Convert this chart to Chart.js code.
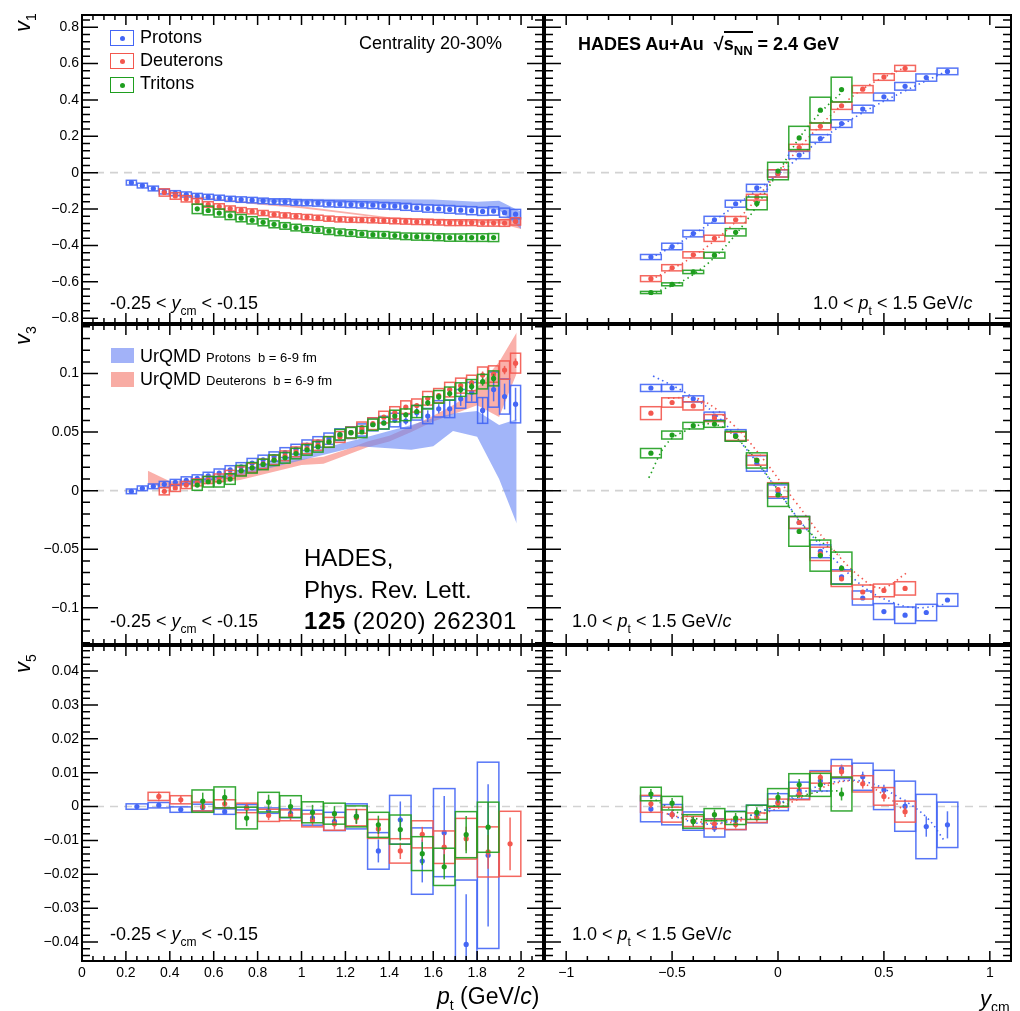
<!DOCTYPE html>
<html>
<head>
<meta charset="utf-8">
<script src="https://cdn.jsdelivr.net/npm/chart.js@4.4.1/dist/chart.umd.min.js"></script>
<style>
  body { margin: 0; background: #fff; width: 1020px; height: 1011px; position: relative; overflow: hidden;
         font-family: "Liberation Sans", Arial, Helvetica, sans-serif; color: #000; }
  canvas { position: absolute; }
  .t { position: absolute; white-space: nowrap; font-size: 18px; line-height: 18px; }
  .sb { font-size: 12px; position: relative; top: 6px; }
  .ax { position: absolute; white-space: nowrap; font-size: 22px; line-height: 22px; }
  .rot { transform: rotate(-90deg); transform-origin: 0 0; }
  .leg { position: absolute; width: 22px; height: 14px; border: 1.5px solid; }
  .leg i { position: absolute; left: 8.5px; top: 4.5px; width: 5px; height: 5px; border-radius: 50%; }
  .band { position: absolute; width: 23px; height: 15px; }
</style>
</head>
<body>
<canvas id="v1pt" style="left:0;top:11px" width="547" height="316"></canvas>
<canvas id="v1y" style="left:541px;top:11px" width="479" height="316"></canvas>
<canvas id="v3pt" style="left:0;top:321px" width="547" height="327"></canvas>
<canvas id="v3y" style="left:541px;top:321px" width="479" height="327"></canvas>
<canvas id="v5pt" style="left:0;top:642px" width="547" height="369"></canvas>
<canvas id="v5y" style="left:541px;top:642px" width="479" height="369"></canvas>

<!-- legend, top left pad -->
<div class="leg" style="left:110px;top:30px;border-color:#4466f5"><i style="background:#4466f5"></i></div>
<div class="leg" style="left:110px;top:53px;border-color:#f3574e"><i style="background:#f3574e"></i></div>
<div class="leg" style="left:110px;top:77px;border-color:#1f9e1f"><i style="background:#1f9e1f"></i></div>
<div class="t" style="left:140px;top:28px">Protons</div>
<div class="t" style="left:140px;top:51px">Deuterons</div>
<div class="t" style="left:140px;top:74px">Tritons</div>
<div class="t" style="left:359px;top:34px">Centrality 20-30%</div>
<div class="t" style="left:578px;top:35px;font-weight:bold">HADES Au+Au &nbsp;√<span style="border-top:2px solid #000;padding-top:1px">s<span class="sb" style="font-size:13px;top:5px">NN</span></span> = 2.4 GeV</div>

<!-- rapidity / pt windows -->
<div class="t" style="left:110px;top:294px">-0.25 &lt; <i>y</i><span class="sb">cm</span> &lt; -0.15</div>
<div class="t" style="left:110px;top:612px">-0.25 &lt; <i>y</i><span class="sb">cm</span> &lt; -0.15</div>
<div class="t" style="left:110px;top:925px">-0.25 &lt; <i>y</i><span class="sb">cm</span> &lt; -0.15</div>
<div class="t" style="left:813px;top:294px">1.0 &lt; <i>p</i><span class="sb">t</span> &lt; 1.5 GeV/<i>c</i></div>
<div class="t" style="left:572px;top:612px">1.0 &lt; <i>p</i><span class="sb">t</span> &lt; 1.5 GeV/<i>c</i></div>
<div class="t" style="left:572px;top:925px">1.0 &lt; <i>p</i><span class="sb">t</span> &lt; 1.5 GeV/<i>c</i></div>

<!-- model legend, middle left pad -->
<div class="band" style="left:111px;top:348px;background:#a2b2f8"></div>
<div class="band" style="left:111px;top:372px;background:#f8aca4"></div>
<div class="t" style="left:140px;top:347px">UrQMD <span style="font-size:13px">Protons &nbsp;b = 6-9 fm</span></div>
<div class="t" style="left:140px;top:370px">UrQMD <span style="font-size:13px">Deuterons &nbsp;b = 6-9 fm</span></div>

<div class="t" style="left:304px;top:546px;font-size:24px;line-height:24px">HADES,</div>
<div class="t" style="left:304px;top:578px;font-size:24px;line-height:24px">Phys. Rev. Lett.</div>
<div class="t" style="left:304px;top:609px;font-size:24px;line-height:24px;letter-spacing:0.6px"><b>125</b> (2020) 262301</div>

<!-- axis titles -->
<div class="ax rot" style="left:12px;top:32px"><i>v</i><span class="sb" style="font-size:14px">1</span></div>
<div class="ax rot" style="left:12px;top:345px"><i>v</i><span class="sb" style="font-size:14px">3</span></div>
<div class="ax rot" style="left:12px;top:673px"><i>v</i><span class="sb" style="font-size:14px">5</span></div>
<div class="ax" style="left:437px;top:985px;font-size:23px"><i>p</i><span class="sb" style="font-size:14px">t</span> (GeV/<i>c</i>)</div>
<div class="ax" style="left:980px;top:988px"><i>y</i><span class="sb" style="font-size:14px">cm</span></div>

<script>
// bin centres
const ptFine = [0.225,0.275,0.325,0.375,0.425,0.475,0.525,0.575,0.625,0.675,0.725,0.775,0.825,0.875,0.925,0.975,
  1.025,1.075,1.125,1.175,1.225,1.275,1.325,1.375,1.425,1.475,1.525,1.575,1.625,1.675,1.725,1.775,1.825,1.875,1.925,1.975];
const ptCoarse = [0.25,0.35,0.45,0.55,0.65,0.75,0.85,0.95,1.05,1.15,1.25,1.35,1.45,1.55,1.65,1.75,1.85,1.95];
const ycmBins = [-0.6,-0.5,-0.4,-0.3,-0.2,-0.1,0,0.1,0.2,0.3,0.4,0.5,0.6,0.7,0.8];

// v1 vs pt
const v1P = [-0.055,-0.071,-0.087,-0.104,-0.113,-0.120,-0.128,-0.133,-0.138,-0.144,-0.148,-0.151,-0.155,-0.159,-0.160,-0.164,-0.166,-0.168,
  -0.171,-0.173,-0.175,-0.177,-0.179,-0.182,-0.184,-0.188,-0.193,-0.197,-0.199,-0.202,-0.206,-0.209,-0.213,-0.211,-0.220,-0.228];
const sysV1P = [0.013,0.013,0.013,0.013,0.014,0.014,0.014,0.014,0.014,0.014,0.015,0.015,0.015,0.015,0.016,0.016,0.016,0.016,
  0.017,0.017,0.017,0.017,0.018,0.018,0.018,0.019,0.019,0.020,0.020,0.021,0.021,0.022,0.022,0.023,0.025,0.026];
const v1D = [-0.109,-0.128,-0.144,-0.158,-0.175,-0.186,-0.197,-0.206,-0.213,-0.222,-0.230,-0.235,-0.240,-0.244,-0.248,-0.253,-0.257,
  -0.259,-0.260,-0.262,-0.264,-0.266,-0.268,-0.270,-0.271,-0.273,-0.275,-0.275,-0.275,-0.277,-0.277,-0.277,-0.268];
const sysV1D = [0.020,0.018,0.017,0.016,0.015,0.015,0.014,0.014,0.014,0.014,0.014,0.014,0.014,0.014,0.014,0.014,0.014,
  0.014,0.014,0.014,0.014,0.015,0.015,0.015,0.015,0.015,0.016,0.016,0.016,0.017,0.017,0.018,0.020];
const v1T = [-0.199,-0.208,-0.222,-0.237,-0.250,-0.262,-0.273,-0.284,-0.293,-0.302,-0.310,-0.315,-0.322,-0.328,
  -0.332,-0.337,-0.341,-0.342,-0.346,-0.350,-0.352,-0.353,-0.355,-0.357,-0.357,-0.357,-0.357,-0.357];
const sysV1T = [0.026,0.024,0.022,0.021,0.020,0.020,0.019,0.019,0.018,0.018,0.018,0.018,0.018,0.018,
  0.018,0.018,0.018,0.018,0.018,0.018,0.019,0.019,0.019,0.020,0.020,0.021,0.021,0.022];
// UrQMD bands for v1 vs pt
const urV1PtP = [0.8,1.0,1.2,1.4,1.6,1.8,1.9,2.0];
const urV1HiP = [-0.140,-0.143,-0.145,-0.146,-0.147,-0.160,-0.155,-0.215];
const urV1LoP = [-0.158,-0.163,-0.168,-0.175,-0.182,-0.195,-0.205,-0.310];
const urV1PtD = [0.4,0.6,0.8,1.0,1.2,1.4,1.6,1.8,1.9,2.0];
const urV1HiD = [-0.110,-0.140,-0.165,-0.185,-0.215,-0.245,-0.255,-0.260,-0.255,-0.245];
const urV1LoD = [-0.118,-0.148,-0.175,-0.195,-0.225,-0.255,-0.265,-0.275,-0.280,-0.310];

// v1 vs rapidity
const v1Py = [-0.464,-0.406,-0.335,-0.259,-0.171,-0.084,-0.004,0.097,0.188,0.270,0.350,0.417,0.475,0.523,0.557];
const sysV1Py = [0.014,0.018,0.018,0.019,0.019,0.020,0.020,0.020,0.021,0.021,0.021,0.021,0.021,0.020,0.018];
const v1Dy = [-0.583,-0.523,-0.452,-0.361,-0.259,-0.135,-0.004,0.138,0.255,0.368,0.459,0.526,0.574];
const sysV1Dy = [0.016,0.017,0.017,0.017,0.018,0.016,0.020,0.018,0.019,0.020,0.020,0.018,0.016];
const v1Ty = [-0.659,-0.614,-0.546,-0.454,-0.328,-0.169,0.009,0.191,0.344,0.457];
const sysV1Ty = [0.006,0.008,0.009,0.016,0.020,0.035,0.048,0.064,0.071,0.068];
const fitV1Px = [-0.6,-0.4,-0.2,0,0.2,0.4,0.6,0.8];
const fitV1P = [-0.47,-0.34,-0.18,-0.01,0.18,0.33,0.45,0.56];
const fitV1Dx = [-0.6,-0.4,-0.2,0,0.2,0.4,0.6];
const fitV1D = [-0.59,-0.46,-0.27,0.0,0.26,0.46,0.58];
const fitV1Tx = [-0.6,-0.4,-0.2,0,0.1,0.2,0.3];
const fitV1T = [-0.67,-0.56,-0.34,0.0,0.19,0.33,0.44];

// v3 vs pt
const v3P = [-0.0006,0.0020,0.0037,0.0054,0.0071,0.0088,0.0105,0.0127,0.0150,0.0178,0.0204,0.0235,0.0263,0.0291,0.0325,0.0354,0.0388,0.0416,
  0.0444,0.0478,0.0495,0.0518,0.0566,0.0580,0.0603,0.0594,0.0665,0.0637,0.0699,0.0699,0.0784,0.0840,0.0685,0.0863,0.0804,0.0739];
const sysV3P = [0.002,0.002,0.002,0.0025,0.0025,0.003,0.003,0.003,0.0035,0.0035,0.0035,0.004,0.004,0.004,0.0042,0.0042,0.0045,0.0045,
  0.0048,0.005,0.005,0.0052,0.0055,0.0055,0.0058,0.006,0.0062,0.0065,0.007,0.0075,0.008,0.0085,0.011,0.015,0.015,0.016];
const statV3P = [0.0005,0.0005,0.0005,0.0005,0.0005,0.0005,0.0005,0.0005,0.0005,0.0005,0.0006,0.0006,0.0006,0.0007,0.0007,0.0008,0.0008,0.0009,
  0.0009,0.001,0.001,0.0012,0.0015,0.002,0.0025,0.003,0.004,0.005,0.004,0.007,0.006,0.008,0.011,0.010,0.011,0.014];
const v3D = [-0.0006,0.0023,0.0048,0.0071,0.0091,0.0110,0.0139,0.0167,0.0195,0.0229,0.0263,0.0297,0.0331,0.0359,0.0388,0.0416,0.0458,
  0.0495,0.0538,0.0572,0.0628,0.0665,0.0713,0.0727,0.0789,0.0812,0.0863,0.0897,0.0920,0.0988,0.0996,0.1030,0.1089];
const sysV3D = [0.003,0.003,0.003,0.003,0.003,0.0032,0.0034,0.0036,0.0038,0.004,0.004,0.0042,0.0042,0.0044,0.0044,0.0046,0.0046,
  0.0048,0.0048,0.005,0.005,0.0052,0.0054,0.0056,0.0058,0.006,0.0062,0.0064,0.0066,0.0068,0.007,0.0078,0.0085];
const statV3D = [0.0005,0.0005,0.0005,0.0005,0.0005,0.0005,0.0005,0.0005,0.0006,0.0006,0.0006,0.0007,0.0007,0.0008,0.0008,0.0009,0.001,
  0.001,0.0011,0.0012,0.0013,0.0014,0.0015,0.0016,0.0018,0.002,0.0022,0.0024,0.0026,0.003,0.0032,0.0036,0.004];
const v3T = [0.0048,0.0076,0.0076,0.0099,0.0170,0.0195,0.0224,0.0260,0.0280,0.0317,0.0348,0.0374,0.0416,0.0478,
  0.0495,0.0501,0.0563,0.0577,0.0637,0.0648,0.0676,0.0750,0.0801,0.0829,0.0863,0.0889,0.0931,0.0959];
const sysV3T = [0.0045,0.0045,0.0045,0.0045,0.0045,0.0045,0.0045,0.0045,0.0045,0.0045,0.0045,0.0045,0.0045,0.0045,
  0.0045,0.0048,0.0048,0.005,0.005,0.005,0.0052,0.0052,0.0054,0.0056,0.0058,0.006,0.0062,0.0064];
const statV3T = [0.0008,0.0008,0.0008,0.0008,0.0008,0.0008,0.0009,0.0009,0.0009,0.001,0.001,0.0011,0.0011,0.0012,
  0.0013,0.0014,0.0015,0.0016,0.0018,0.002,0.0022,0.0024,0.0026,0.0028,0.003,0.0032,0.0035,0.0038];
// UrQMD bands for v3 vs pt
const urV3PtP = [0.45,0.7,1.0,1.26,1.5,1.6,1.69,1.8,1.9,1.98];
const urV3HiP = [0.007,0.016,0.032,0.044,0.056,0.062,0.066,0.068,0.056,0.061];
const urV3LoP = [0.004,0.012,0.026,0.038,0.035,0.038,0.051,0.046,0.010,-0.028];
const urV3PtD = [0.3,0.4,0.6,0.72,0.87,1.0,1.1,1.2,1.3,1.4,1.5,1.6,1.7,1.8,1.9,1.98];
const urV3HiD = [0.017,0.008,0.010,0.015,0.022,0.027,0.029,0.035,0.042,0.047,0.055,0.064,0.074,0.088,0.110,0.135];
const urV3LoD = [0.005,0.003,0.006,0.009,0.016,0.022,0.023,0.030,0.037,0.042,0.050,0.059,0.066,0.073,0.063,0.100];

// v3 vs rapidity
const v3Py = [0.0877,0.0877,0.0784,0.0637,0.0473,0.0232,-0.0008,-0.0272,-0.0518,-0.0736,-0.0917,-0.1033,-0.1064,-0.1041,-0.0934];
const sysV3Py = [0.003,0.003,0.0026,0.0034,0.0048,0.0066,0.0057,0.0052,0.0055,0.006,0.006,0.0068,0.007,0.007,0.0054];
const v3Dy = [0.0662,0.0753,0.0724,0.0620,0.0464,0.0260,0.0008,-0.0272,-0.0540,-0.0753,-0.0866,-0.0852,-0.0835];
const sysV3Dy = [0.0055,0.004,0.0035,0.003,0.0035,0.0042,0.006,0.005,0.0057,0.0066,0.006,0.0054,0.0057];
const v3Ty = [0.0320,0.0475,0.0555,0.0569,0.0464,0.0258,-0.0037,-0.0348,-0.0555,-0.0662];
const sysV3Ty = [0.004,0.0034,0.0028,0.0028,0.0042,0.0065,0.0098,0.0127,0.0133,0.0137];
const fitV3Px = [-0.59,-0.44,-0.30,-0.17,-0.02,0.13,0.29,0.41,0.52,0.65,0.79];
const fitV3P = [0.098,0.084,0.066,0.040,0.005,-0.032,-0.063,-0.083,-0.094,-0.100,-0.097];
const fitV3Dx = [-0.52,-0.37,-0.21,-0.07,0.08,0.24,0.39,0.49,0.61];
const fitV3D = [0.079,0.078,0.056,0.027,-0.009,-0.046,-0.074,-0.083,-0.070];
const fitV3Tx = [-0.61,-0.53,-0.45,-0.31,-0.19,-0.03,0.13,0.29];
const fitV3T = [0.011,0.039,0.050,0.057,0.044,0.008,-0.032,-0.055];

// v5 vs pt
const v5P = [0,0.0004,-0.0009,-0.0003,-0.0015,-0.0002,-0.0012,-0.002,-0.0033,-0.0044,-0.0029,-0.0131,-0.0039,-0.0161,-0.0077,-0.0407,-0.0144];
const sysV5P = [0.0008,0.0008,0.0008,0.001,0.0008,0.0008,0.0008,0.0013,0.0022,0.0027,0.0037,0.0054,0.0072,0.0098,0.013,0.019,0.0275];
const statV5P = [0.0003,0.0003,0.0004,0.0005,0.0006,0.0007,0.0008,0.001,0.0012,0.0015,0.002,0.0034,0.0054,0.0063,0.0108,0.0148,0.021];
const v5D = [0.003,0.002,0,0.0008,-0.0004,-0.0026,-0.0026,-0.0041,-0.0051,-0.0033,-0.0066,-0.0131,-0.0082,-0.012,-0.0095,-0.0134,-0.011];
const sysV5D = [0.0012,0.0012,0.0013,0.0012,0.0014,0.0018,0.0016,0.0019,0.0019,0.0024,0.0028,0.0036,0.004,0.0048,0.006,0.0074,0.0096];
const statV5D = [0.0014,0.0012,0.0012,0.0013,0.0013,0.0014,0.0015,0.0016,0.0017,0.0019,0.0025,0.0024,0.0022,0.004,0.0035,0.005,0.0078];
const v5T = [0.0016,0.0027,-0.0034,0.0013,0,-0.0017,-0.0021,-0.0029,-0.0054,-0.0068,-0.0139,-0.0178,-0.0083,-0.0061];
const sysV5T = [0.0033,0.0031,0.0032,0.0029,0.0032,0.0031,0.0031,0.0031,0.0037,0.0043,0.005,0.0055,0.0068,0.0074];
const statV5T = [0.0025,0.0024,0.0024,0.0022,0.0022,0.0022,0.0022,0.0022,0.0027,0.0032,0.0034,0.0037,0.0055,0.0074];

// v5 vs rapidity
const v5Py = [-0.0007,-0.0024,-0.0043,-0.0063,-0.0041,-0.0022,0.0013,0.0047,0.0076,0.0111,0.0088,0.0049,0.0001,-0.0059,-0.0054];
const sysV5Py = [0.0038,0.003,0.0027,0.0027,0.0027,0.0026,0.0025,0.0025,0.003,0.0028,0.004,0.0058,0.0074,0.0095,0.0067];
const statV5Py = [0.0012,0.0012,0.0012,0.0012,0.0012,0.0012,0.0012,0.0012,0.0013,0.0013,0.0015,0.0015,0.002,0.003,0.004];
const v5Dy = [0.0008,-0.0024,-0.0044,-0.0051,-0.0053,-0.0033,0.001,0.0037,0.0086,0.0103,0.0067,0.003,-0.0015];
const sysV5Dy = [0.0025,0.0022,0.0015,0.0014,0.0015,0.0014,0.0012,0.0017,0.0017,0.0017,0.0024,0.0026,0.0031];
const statV5Dy = [0.0012,0.0012,0.0012,0.0012,0.0012,0.0012,0.0012,0.0012,0.0013,0.0013,0.0014,0.0015,0.0016];
const v5Ty = [0.0037,0.001,-0.0044,-0.0024,-0.0034,-0.0017,0.0027,0.0064,0.0064,0.0037];
const sysV5Ty = [0.002,0.002,0.002,0.0018,0.0019,0.0021,0.0026,0.0033,0.0034,0.005];
const statV5Ty = [0.0015,0.0015,0.0015,0.0015,0.0015,0.0015,0.0016,0.0017,0.0018,0.0019];
const fitV5Px = [-0.52,-0.36,-0.21,-0.05,0.10,0.26,0.42,0.57,0.70,0.79];
const fitV5P = [-0.0022,-0.0051,-0.0041,-0.0007,0.0037,0.0072,0.0072,0.0027,-0.0031,-0.0105];
const fitV5Dx = [-0.55,-0.36,-0.21,-0.05,0.10,0.26,0.38,0.54,0.60];
const fitV5D = [-0.0017,-0.0046,-0.0046,-0.0017,0.0023,0.0067,0.0072,0.0018,-0.0017];
const fitV5Tx = [-0.60,-0.44,-0.29,-0.13,0.03,0.18,0.30];
const fitV5T = [0.0027,-0.0026,-0.0041,-0.0026,0.0013,0.0042,0.0047];

const BLUE = '#4466f5', RED = '#f3574e', GREEN = '#1f9e1f';
const BAND_BLUE = 'rgba(105,135,246,0.62)', BAND_RED = 'rgba(246,112,100,0.55)';

Chart.defaults.font.family = "'Liberation Sans', Arial, sans-serif";
Chart.defaults.color = '#000';

// xy pairs from two arrays
function pairs(xs, ys) {
  return xs.map((x, i) => ({x: x, y: ys[i]}));
}

// measured points with systematic boxes and stat bars
function points(xs, ys, sys, stat, color, hw, order) {
  return {
    type: 'scatter', data: pairs(xs, ys), sys: sys, stat: stat, hw: hw, boxColor: color,
    backgroundColor: color, borderWidth: 0, pointRadius: 2.6, order: order
  };
}

// model band as upper + lower line, filled in between
function band(xs, hi, lo, color) {
  const common = {type: 'line', pointRadius: 0, borderWidth: 0, backgroundColor: color, order: 10};
  return [
    Object.assign({data: pairs(xs, hi), fill: false}, common),
    Object.assign({data: pairs(xs, lo), fill: '-1'}, common)
  ];
}

function fitLine(xs, ys, color) {
  return {
    type: 'line', data: pairs(xs, ys), borderColor: color, borderWidth: 1.6, borderDash: [1.5, 3.5],
    pointRadius: 0, tension: 0.4, fill: false, order: 5
  };
}

// boxes and bars are drawn just before each point set
const errorBoxes = {
  id: 'errorBoxes',
  beforeDatasetDraw(chart, args) {
    const ds = chart.data.datasets[args.index];
    if (!ds.sys) return;
    const {ctx, chartArea: a, scales: {x, y}} = chart;
    ctx.save();
    ctx.beginPath();
    ctx.rect(a.left, a.top, a.width, a.height);
    ctx.clip();
    ctx.strokeStyle = ds.boxColor;
    ctx.globalAlpha = 0.9;
    ctx.lineWidth = 1.5;
    ds.data.forEach((p, i) => {
      const x0 = x.getPixelForValue(p.x - ds.hw), x1 = x.getPixelForValue(p.x + ds.hw);
      const y0 = y.getPixelForValue(p.y + ds.sys[i]), y1 = y.getPixelForValue(p.y - ds.sys[i]);
      ctx.strokeRect(x0, y0, x1 - x0, y1 - y0);
      if (ds.stat) {
        const xc = x.getPixelForValue(p.x);
        ctx.beginPath();
        ctx.moveTo(xc, y.getPixelForValue(p.y + ds.stat[i]));
        ctx.lineTo(xc, y.getPixelForValue(p.y - ds.stat[i]));
        ctx.stroke();
      }
    });
    ctx.restore();
  }
};

// ROOT style pad: dashed zero line, frame and inward ticks on all four sides
const rootFrame = {
  id: 'rootFrame',
  beforeDatasetsDraw(chart) {
    const {ctx, chartArea: a, scales: {y}} = chart;
    const y0 = y.getPixelForValue(0);
    ctx.save();
    ctx.strokeStyle = '#d2d2d2';
    ctx.lineWidth = 1.6;
    ctx.setLineDash([8, 6]);
    ctx.beginPath();
    ctx.moveTo(a.left, y0);
    ctx.lineTo(a.right, y0);
    ctx.stroke();
    ctx.restore();
  },
  afterDraw(chart, args, o) {
    const {ctx, chartArea: a, scales: {x, y}} = chart;
    ctx.save();
    ctx.strokeStyle = '#000';
    ctx.lineWidth = 1.5;
    ctx.beginPath();
    for (let i = Math.ceil(x.min / o.xMinor - 1e-6); i * o.xMinor <= x.max + 1e-9; i++) {
      const v = i * o.xMinor;
      const big = Math.abs(v / o.xMajor - Math.round(v / o.xMajor)) < 1e-6;
      const len = big ? 10 : 5;
      const px = x.getPixelForValue(v);
      ctx.moveTo(px, a.bottom); ctx.lineTo(px, a.bottom - len);
      ctx.moveTo(px, a.top); ctx.lineTo(px, a.top + len);
    }
    for (let i = Math.ceil(y.min / o.yMinor - 1e-6); i * o.yMinor <= y.max + 1e-9; i++) {
      const v = i * o.yMinor;
      const big = Math.abs(v / o.yMajor - Math.round(v / o.yMajor)) < 1e-6;
      const len = big ? 16 : 8;
      const py = y.getPixelForValue(v);
      ctx.moveTo(a.left, py); ctx.lineTo(a.left + len, py);
      ctx.moveTo(a.right, py); ctx.lineTo(a.right - len, py);
    }
    ctx.stroke();
    ctx.lineWidth = 2;
    ctx.strokeRect(a.left, a.top, a.width, a.height);
    ctx.restore();
  }
};

function fmt(v) {
  const r = Math.round(v * 1e4) / 1e4;
  return r < 0 ? '\u2212' + String(-r) : String(r);
}

// one pad of the 3x2 grid
function makePad(id, cfg) {
  const left = cfg.col === 0, bottom = cfg.row === 2;
  new Chart(document.getElementById(id), {
    type: 'scatter',
    data: {datasets: cfg.datasets},
    options: {
      responsive: false,
      animation: false,
      devicePixelRatio: 1,
      events: [],
      layout: {padding: {left: left ? 0 : 3, right: left ? 3 : 9, top: 3, bottom: bottom ? 0 : 3}},
      scales: {
        x: {
          type: 'linear', min: cfg.x[0], max: cfg.x[1], display: bottom, position: 'bottom',
          grid: {display: false, drawTicks: false}, border: {display: false},
          ticks: {stepSize: cfg.xMajor, callback: fmt, font: {size: 14}, padding: 4, autoSkip: false, maxRotation: 0, includeBounds: false},
          afterFit(s) { s.height = bottom ? 50 : 0; s.paddingLeft = 0; s.paddingRight = 0; }
        },
        y: {
          type: 'linear', min: cfg.y[0], max: cfg.y[1], display: left, position: 'left',
          grid: {display: false, drawTicks: false}, border: {display: false},
          ticks: {stepSize: cfg.yMajor, callback: fmt, font: {size: 14}, padding: 3, autoSkip: false, includeBounds: false},
          afterFit(s) { s.width = left ? 82 : 0; s.paddingTop = 0; s.paddingBottom = 0; }
        }
      },
      plugins: {
        legend: {display: false},
        tooltip: {enabled: false},
        rootFrame: {xMajor: cfg.xMajor, xMinor: cfg.xMinor, yMajor: cfg.yMajor, yMinor: cfg.yMinor}
      }
    },
    plugins: [rootFrame, errorBoxes]
  });
}

const ptAxis = {x: [0, 2.1], xMajor: 0.2, xMinor: 0.05};
const ycmAxis = {x: [-1.1, 1.1], xMajor: 0.5, xMinor: 0.1};
const v1Axis = {y: [-0.8268, 0.8672], yMajor: 0.2, yMinor: 0.04};
const v3Axis = {y: [-0.131, 0.1415], yMajor: 0.05, yMinor: 0.01};
const v5Axis = {y: [-0.0456, 0.0474], yMajor: 0.01, yMinor: 0.002};

makePad('v1pt', Object.assign({col: 0, row: 0}, ptAxis, v1Axis, {datasets: [
  ...band(urV1PtP, urV1HiP, urV1LoP, BAND_BLUE),
  ...band(urV1PtD, urV1HiD, urV1LoD, BAND_RED),
  points(ptFine, v1P, sysV1P, null, BLUE, 0.023, 3),
  points(ptFine.slice(3), v1D, sysV1D, null, RED, 0.023, 2),
  points(ptFine.slice(6, 34), v1T, sysV1T, null, GREEN, 0.023, 1)
]}));

makePad('v1y', Object.assign({col: 1, row: 0}, ycmAxis, v1Axis, {datasets: [
  fitLine(fitV1Px, fitV1P, BLUE),
  fitLine(fitV1Dx, fitV1D, RED),
  fitLine(fitV1Tx, fitV1T, GREEN),
  points(ycmBins, v1Py, sysV1Py, null, BLUE, 0.049, 3),
  points(ycmBins.slice(0, 13), v1Dy, sysV1Dy, null, RED, 0.049, 2),
  points(ycmBins.slice(0, 10), v1Ty, sysV1Ty, null, GREEN, 0.049, 1)
]}));

makePad('v3pt', Object.assign({col: 0, row: 1}, ptAxis, v3Axis, {datasets: [
  ...band(urV3PtP, urV3HiP, urV3LoP, BAND_BLUE),
  ...band(urV3PtD, urV3HiD, urV3LoD, BAND_RED),
  points(ptFine, v3P, sysV3P, statV3P, BLUE, 0.023, 3),
  points(ptFine.slice(3), v3D, sysV3D, statV3D, RED, 0.023, 2),
  points(ptFine.slice(6, 34), v3T, sysV3T, statV3T, GREEN, 0.023, 1)
]}));

makePad('v3y', Object.assign({col: 1, row: 1}, ycmAxis, v3Axis, {datasets: [
  fitLine(fitV3Px, fitV3P, BLUE),
  fitLine(fitV3Dx, fitV3D, RED),
  fitLine(fitV3Tx, fitV3T, GREEN),
  points(ycmBins, v3Py, sysV3Py, null, BLUE, 0.049, 3),
  points(ycmBins.slice(0, 13), v3Dy, sysV3Dy, null, RED, 0.049, 2),
  points(ycmBins.slice(0, 10), v3Ty, sysV3Ty, null, GREEN, 0.049, 1)
]}));

makePad('v5pt', Object.assign({col: 0, row: 2}, ptAxis, v5Axis, {datasets: [
  points(ptCoarse.slice(0, 17), v5P, sysV5P, statV5P, BLUE, 0.049, 3),
  points(ptCoarse.slice(1), v5D, sysV5D, statV5D, RED, 0.049, 2),
  points(ptCoarse.slice(3, 17), v5T, sysV5T, statV5T, GREEN, 0.049, 1)
]}));

makePad('v5y', Object.assign({col: 1, row: 2}, ycmAxis, v5Axis, {datasets: [
  fitLine(fitV5Px, fitV5P, BLUE),
  fitLine(fitV5Dx, fitV5D, RED),
  fitLine(fitV5Tx, fitV5T, GREEN),
  points(ycmBins, v5Py, sysV5Py, statV5Py, BLUE, 0.049, 3),
  points(ycmBins.slice(0, 13), v5Dy, sysV5Dy, statV5Dy, RED, 0.049, 2),
  points(ycmBins.slice(0, 10), v5Ty, sysV5Ty, statV5Ty, GREEN, 0.049, 1)
]}));
</script>
</body>
</html>
